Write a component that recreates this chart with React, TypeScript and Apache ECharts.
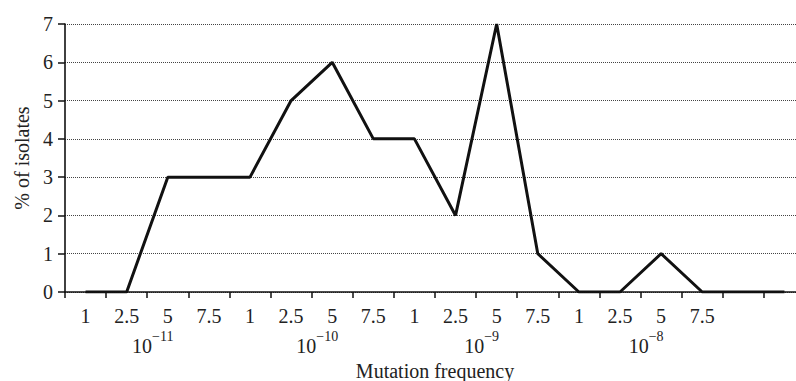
import React, { useEffect, useRef } from "react";
import * as echarts from "echarts";

const categories = ["1", "2.5", "5", "7.5", "1", "2.5", "5", "7.5", "1", "2.5", "5", "7.5", "1", "2.5", "5", "7.5", "", ""];
const decadeLabels: Record<number, string> = { 2: "−11", 6: "−10", 10: "−9", 14: "−8" };
const isolates = [0, 0, 3, 3, 3, 5, 6, 4, 4, 2, 7, 1, 0, 0, 1, 0, 0, 0];
const yTicks = { min: 0, max: 7, interval: 1 };

const FONT = "Liberation Serif";

export default function App() {
  const ref = useRef<HTMLDivElement>(null);
  useEffect(() => {
    if (!ref.current) return;
    const chart = echarts.init(ref.current, null, { renderer: "svg" });
    chart.setOption({
      animation: false,
      backgroundColor: "#ffffff",
      grid: { left: 65, top: 24, right: -9, bottom: 89, containLabel: false, outerBoundsMode: "none" },
      xAxis: [
        {
          type: "category",
          data: categories,
          boundaryGap: true,
          name: "Mutation frequency",
          nameLocation: "middle",
          nameGap: 69,
          nameTextStyle: { fontFamily: FONT, fontSize: 20, color: "#222" },
          axisLine: { lineStyle: { color: "#111", width: 1.6 } },
          axisTick: { show: true, interval: 0, length: 6, lineStyle: { color: "#111", width: 1.5 } },
          axisLabel: { interval: 0, margin: 14, fontFamily: FONT, fontSize: 20, color: "#222" },
        },
        {
          type: "category",
          data: categories,
          boundaryGap: true,
          position: "bottom",
          gridIndex: 0,
          axisLine: { show: false },
          axisTick: { show: false },
          axisLabel: {
            interval: 0,
            margin: 37,
            formatter: (_v: string, i: number) =>
              decadeLabels[i] ? `{b|10}{s|${decadeLabels[i]}}{g|}` : "",
            rich: {
              b: { fontFamily: FONT, fontSize: 20, color: "#222" },
              s: { fontFamily: FONT, fontSize: 14, color: "#222", padding: [0, 0, 20, 0] },
              g: { width: 30 },
            },
          },
        },
      ],
      yAxis: {
        type: "value",
        min: yTicks.min,
        max: yTicks.max,
        interval: yTicks.interval,
        name: "% of isolates",
        nameLocation: "middle",
        nameGap: 33,
        nameTextStyle: { fontFamily: FONT, fontSize: 20, color: "#222" },
        axisLine: { show: true, lineStyle: { color: "#111", width: 1.6 } },
        axisTick: { show: true, length: 7, lineStyle: { color: "#111", width: 1.5 } },
        axisLabel: { margin: 12, fontFamily: FONT, fontSize: 20, color: "#222" },
        splitLine: { show: true, lineStyle: { type: "dotted", color: "#444", width: 1 } },
      },
      series: [
        {
          type: "line",
          data: isolates,
          symbol: "none",
          lineStyle: { color: "#111", width: 3 },
        },
      ],
    });
    return () => chart.dispose();
  }, []);
  return <div ref={ref} style={{ position: "fixed", left: 0, top: 0, width: 796, height: 381 }} />;
}
